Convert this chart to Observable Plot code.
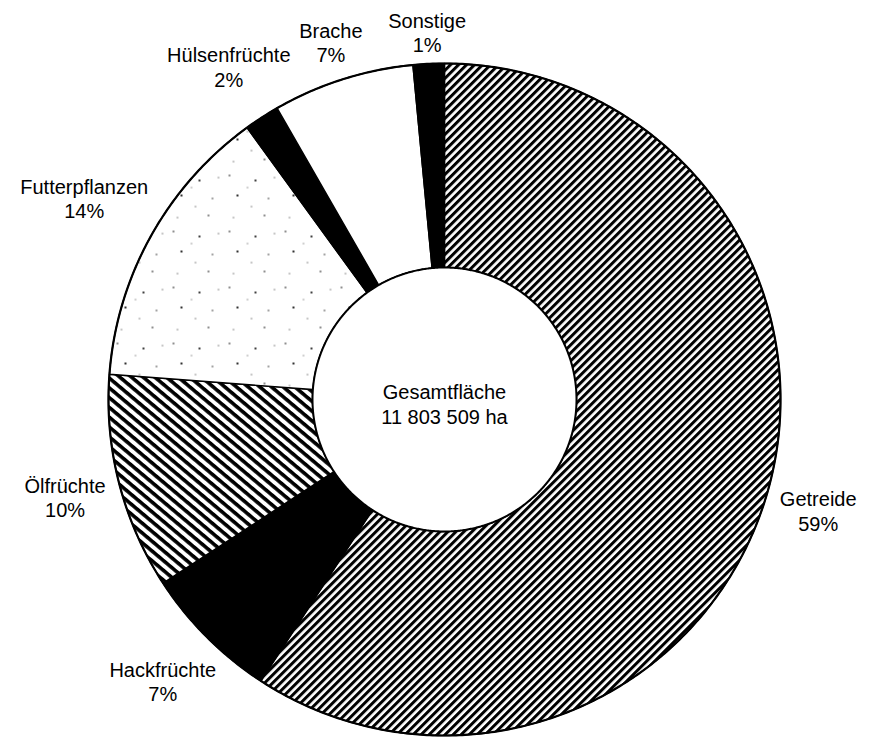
<!DOCTYPE html>
<html>
<head>
<meta charset="utf-8">
<script src="https://cdn.jsdelivr.net/npm/d3@7"></script>
<script src="https://cdn.jsdelivr.net/npm/@observablehq/plot@0.6"></script>
<style>
  html, body { margin: 0; padding: 0; background: #fff; }
  #chart svg { display: block; }
</style>
</head>
<body>
<div id="chart"></div>
<script>
// ---- data ----
const categories = ["Getreide", "Hackfrüchte", "Ölfrüchte", "Futterpflanzen", "Hülsenfrüchte", "Brache", "Sonstige"];
const shares = [59.2, 6.6, 10.4, 13.8, 1.7, 6.8, 1.5];
const percentLabels = ["59%", "7%", "10%", "14%", "2%", "7%", "1%"];
const totalLabel = ["Gesamtfläche", "11 803 509 ha"];

// ---- styles & layout ----
const sliceFill = {
  "Getreide": "url(#hatch-up)",
  "Hackfrüchte": "black",
  "Ölfrüchte": "url(#hatch-down)",
  "Futterpflanzen": "url(#stipple)",
  "Hülsenfrüchte": "black",
  "Brache": "white",
  "Sonstige": "black"
};
const W = 880, H = 738, CX = 444, CY = 399, R = 336, R0 = 132;
const FONT = '"Liberation Sans", Arial, Helvetica, sans-serif';
const FS = 20;
const LH = 1.22;
const inner = R0 / R;

const total = d3.sum(shares);
let acc = 0;
const slices = categories.map((name, i) => {
  const a0 = acc / total * 2 * Math.PI;
  acc += shares[i];
  const a1 = acc / total * 2 * Math.PI;
  return {name, pct: percentLabels[i], a0, a1, mid: (a0 + a1) / 2};
});

function ring(a0, a1) {
  const pts = [];
  const n = Math.max(2, Math.ceil((a1 - a0) / (Math.PI / 360)));
  for (let k = 0; k <= n; k++) { const a = a0 + (a1 - a0) * k / n; pts.push({x: Math.sin(a), y: Math.cos(a)}); }
  for (let k = n; k >= 0; k--) { const a = a0 + (a1 - a0) * k / n; pts.push({x: inner * Math.sin(a), y: inner * Math.cos(a)}); }
  pts.push(pts[0]);
  return pts;
}
function circle(rad) {
  const pts = [];
  for (let k = 0; k <= 720; k++) { const a = k / 720 * 2 * Math.PI; pts.push({x: rad * Math.sin(a), y: rad * Math.cos(a)}); }
  return pts;
}

// label placement: text box pushed just outside the ring along the slice's mid-angle
const ctx = document.createElement("canvas").getContext("2d");
ctx.font = `${FS}px ${FONT}`;
const measure = (t) => ctx.measureText(t).width;
const labels = slices.map(s => {
  const halfW = Math.max(measure(s.name), measure(s.pct)) / 2;
  const halfH = 18;
  const sx = Math.sin(s.mid), cy = Math.cos(s.mid);
  const dist = R + 12 + Math.abs(sx) * halfW + Math.abs(cy) * halfH;
  return {x: dist * sx / R, y: dist * cy / R, text: s.name + "\n" + s.pct};
});

const chart = Plot.plot({
  width: W,
  height: H,
  margin: 0,
  x: {type: "linear", domain: [-CX / R, (W - CX) / R], range: [0, W], axis: null},
  y: {type: "linear", domain: [-(H - CY) / R, CY / R], range: [H, 0], axis: null},
  style: {fontFamily: FONT, background: "white", color: "black"},
  marks: [
    ...slices.map(s => Plot.line(ring(s.a0, s.a1), {
      x: "x", y: "y", fill: sliceFill[s.name], stroke: "black", strokeWidth: 1.4, strokeLinejoin: "round"
    })),
    Plot.line(circle(1), {x: "x", y: "y", stroke: "black", strokeWidth: 2.2}),
    Plot.line(circle(inner), {x: "x", y: "y", stroke: "black", strokeWidth: 2, fill: "white"}),
    Plot.text(labels, {x: "x", y: "y", text: "text", fontSize: FS, lineHeight: LH, fill: "black"}),
    Plot.text([{x: 0, y: 0, text: totalLabel.join("\n")}], {
      x: "x", y: "y", text: "text", fontSize: FS, lineHeight: 1.25, fill: "black", dy: 4
    })
  ]
});

// pattern definitions
const svg = d3.select(chart);
const defs = svg.insert("defs", ":first-child");

const p1 = 5.66, b1 = 3.0;
const hu = defs.append("pattern").attr("id", "hatch-up").attr("patternUnits", "userSpaceOnUse")
  .attr("width", p1).attr("height", p1).attr("patternTransform", "rotate(-45)");
hu.append("rect").attr("width", p1).attr("height", p1).attr("fill", "white");
hu.append("rect").attr("width", p1).attr("height", b1).attr("fill", "black");

const p2 = 7.5, b2 = 3.6;
const hd = defs.append("pattern").attr("id", "hatch-down").attr("patternUnits", "userSpaceOnUse")
  .attr("width", p2).attr("height", p2).attr("patternTransform", "rotate(40)");
hd.append("rect").attr("width", p2).attr("height", p2).attr("fill", "white");
hd.append("rect").attr("width", p2).attr("height", b2).attr("fill", "black");

const st = defs.append("pattern").attr("id", "stipple").attr("patternUnits", "userSpaceOnUse")
  .attr("width", 56).attr("height", 56);
st.append("rect").attr("width", 56).attr("height", 56).attr("fill", "white");
const specks = [[5,7,.8],[31,12,1.0],[44,30,.7],[13,27,1.1],[27,38,.6],[40,47,.8],[9,49,.6],[23,19,.5],[50,9,.6]];
specks.forEach(([x, y, r]) => st.append("circle").attr("cx", x).attr("cy", y).attr("r", r).attr("fill", "black"));

document.getElementById("chart").appendChild(chart);
</script>
</body>
</html>
